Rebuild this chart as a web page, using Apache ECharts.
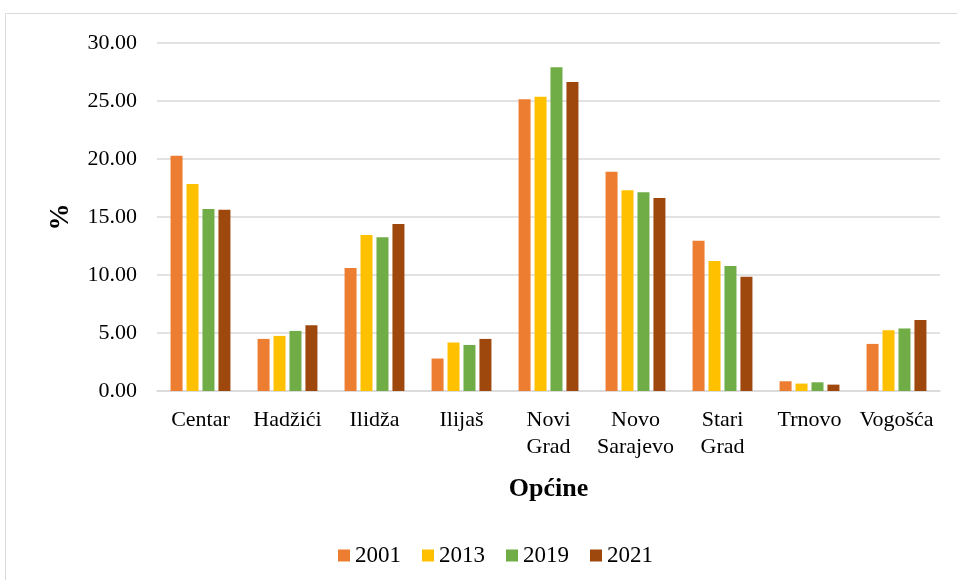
<!DOCTYPE html>
<html><head><meta charset="utf-8">
<script src="https://cdn.jsdelivr.net/npm/echarts@6/dist/echarts.min.js"></script>
<style>html,body{margin:0;padding:0;background:#fff}#c{width:957px;height:580px}</style>
</head><body><div id="c"></div>
<script>
const categories = ['Centar','Hadžići','Ilidža','Ilijaš','Novi\nGrad','Novo\nSarajevo','Stari\nGrad','Trnovo','Vogošća'];
const years = ['2001','2013','2019','2021'];
const v2001 = [20.27, 4.49, 10.60, 2.80, 25.16, 18.91, 12.96, 0.84, 4.06];
const v2013 = [17.85, 4.75, 13.45, 4.18, 25.36, 17.30, 11.20, 0.64, 5.24];
const v2019 = [15.69, 5.18, 13.25, 3.97, 27.90, 17.13, 10.77, 0.75, 5.39];
const v2021 = [15.63, 5.67, 14.40, 4.49, 26.63, 16.64, 9.84, 0.55, 6.13];
const yTicks = {min: 0, max: 30, interval: 5};
const colors = ['#ED7D31','#FFC000','#70AD47','#9E480E'];
const font = '"Liberation Serif","Times New Roman",serif';
const seriesData = [v2001, v2013, v2019, v2021];

const chart = echarts.init(document.getElementById('c'));
chart.setOption({
  animation: false,
  textStyle: {fontFamily: font},
  graphic: [{type:'rect', shape:{x:5.5,y:13.5,width:970,height:600}, style:{fill:'none', stroke:'#D9D9D9', lineWidth:1}}],
  grid: {left: 157, right: 17, top: 43, bottom: 189},
  legend: {
    top: 539, left: 333, itemWidth: 12, itemHeight: 12, itemGap: 21,
    icon: 'rect',
    textStyle: {fontFamily: font, fontSize: 23, color: '#000', padding: [0,0,0,0]},
    data: years
  },
  xAxis: {
    type: 'category', data: categories,
    axisLine: {lineStyle: {color: '#D9D9D9', width: 1.5}},
    axisTick: {show: false},
    axisLabel: {color: '#000', fontSize: 22, fontFamily: font, margin: 15, lineHeight: 27.5, interval: 0},
    name: 'Općine', nameLocation: 'middle', nameGap: 85,
    nameTextStyle: {color: '#000', fontSize: 26, fontWeight: 'bold', fontFamily: font}
  },
  yAxis: {
    type: 'value', min: yTicks.min, max: yTicks.max, interval: yTicks.interval,
    axisLine: {show: false}, axisTick: {show: false},
    splitLine: {lineStyle: {color: '#D9D9D9', width: 1.5}},
    axisLabel: {color: '#000', fontSize: 22, fontFamily: font, margin: 20, formatter: v => v.toFixed(2)},
    name: '%', nameLocation: 'middle', nameGap: 82, nameRotate: 90,
    nameTextStyle: {color: '#000', fontSize: 27, fontWeight: 'bold', fontFamily: font}
  },
  series: years.map((y, i) => ({
    name: y, type: 'bar', data: seriesData[i], barWidth: 12, barGap: '33%',
    itemStyle: {color: colors[i]}
  }))
});
</script></body></html>
